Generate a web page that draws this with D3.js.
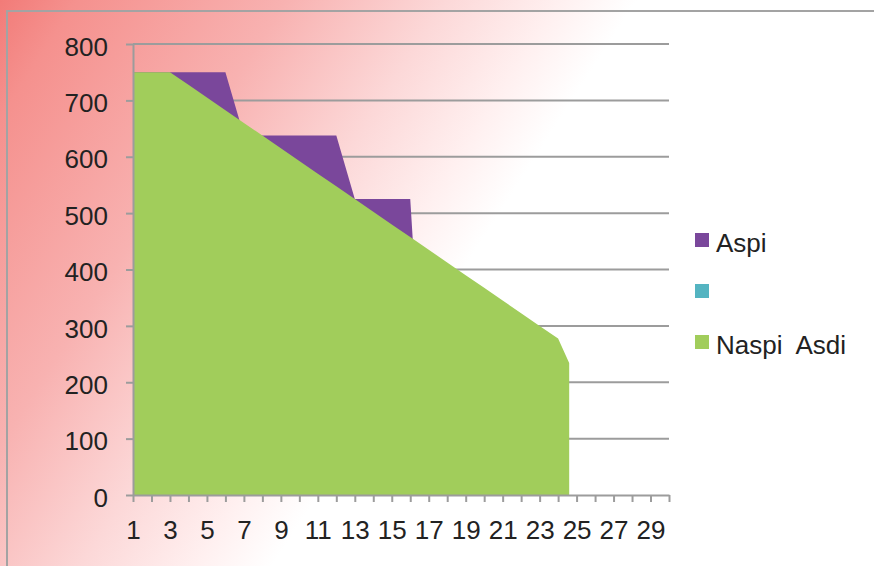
<!DOCTYPE html>
<html>
<head>
<meta charset="utf-8">
<script src="https://cdn.jsdelivr.net/npm/d3@7"></script>
<style>
  html, body { margin: 0; padding: 0; background: #fff; }
  svg { display: block; font-family: "Liberation Sans", Arial, sans-serif; }
</style>
</head>
<body>
<svg id="chart" width="874" height="566"></svg>
<script>
// categories on the x axis
const categories = [1, 2, 3, 4, 5, 6, 7, 8, 9, 10, 11, 12, 13, 14, 15, 16, 17, 18, 19, 20,
  21, 22, 23, 24, 25, 26, 27, 28, 29, 30];
const yTicks = [0, 100, 200, 300, 400, 500, 600, 700, 800];

// Aspi (purple), drawn behind
const aspiCat = [1, 2, 3, 4, 5, 6, 7, 8, 9, 10, 11, 12, 13, 14, 15, 16, 17];
const aspiVal = [750, 750, 750, 750, 750, 750, 637.5, 637.5, 637.5, 637.5, 637.5, 637.5,
  525, 525, 525, 525, 0];

// unnamed series (teal), nothing visible
const blankCat = [];
const blankVal = [];

// Naspi Asdi (green), on top
const naspiCat = [1, 2, 3, 4, 5, 6, 7, 8, 9, 10, 11, 12, 13, 14, 15, 16, 17, 18, 19, 20,
  21, 22, 23, 24, 24.6];
const naspiVal = [750, 750, 750, 727.5, 705, 682.5, 660, 637.5, 615, 592.5, 570, 547.5,
  525, 502.5, 480, 457.5, 435, 412.5, 390, 367.5, 345, 322.5, 300, 277.5, 234];

const seriesNames = ["Aspi", "", "Naspi  Asdi"];
const seriesColors = ["#7a479b", "#54b4c1", "#a1cd5b"];

const svg = d3.select("#chart");
const W = 874, H = 566;
const plotLeft = 133, plotRight = 669, plotTop = 44, plotBottom = 495;
const fontSize = "26px";

// background gradient
const defs = svg.append("defs");
const grad = defs.append("linearGradient")
  .attr("id", "bg")
  .attr("gradientUnits", "userSpaceOnUse")
  .attr("x1", 0).attr("y1", 0).attr("x2", 450).attr("y2", 290);
grad.append("stop").attr("offset", 0).attr("stop-color", "#f27b78");
grad.append("stop").attr("offset", 0.12).attr("stop-color", "#f5918e");
grad.append("stop").attr("offset", 0.45).attr("stop-color", "#f8b2b1");
grad.append("stop").attr("offset", 0.7).attr("stop-color", "#fcd8d8");
grad.append("stop").attr("offset", 0.88).attr("stop-color", "#fff0f0");
grad.append("stop").attr("offset", 1).attr("stop-color", "#ffffff");

svg.append("rect").attr("width", W).attr("height", H).attr("fill", "url(#bg)");

// outer frame
svg.append("rect")
  .attr("x", 7).attr("y", 11)
  .attr("width", W).attr("height", H)
  .attr("fill", "none")
  .attr("stroke", "#a3a3a3")
  .attr("stroke-width", 2);

const x = d3.scaleLinear().domain([1, 30]).range([plotLeft, plotRight]);
const y = d3.scaleLinear().domain([0, 800]).range([plotBottom, plotTop]);

// gridlines
svg.append("g")
  .selectAll("line")
  .data(yTicks.filter((d) => d > 0))
  .join("line")
  .attr("x1", plotLeft).attr("x2", plotRight)
  .attr("y1", (d) => y(d)).attr("y2", (d) => y(d))
  .attr("stroke", "#9c9c9c")
  .attr("stroke-width", 2);

// areas
const area = d3.area()
  .x((d) => x(d.c))
  .y0(y(0))
  .y1((d) => y(d.v));

const series = [
  aspiCat.map((c, i) => ({ c: c, v: aspiVal[i] })),
  blankCat.map((c, i) => ({ c: c, v: blankVal[i] })),
  naspiCat.map((c, i) => ({ c: c, v: naspiVal[i] })),
];

svg.append("g")
  .selectAll("path")
  .data(series)
  .join("path")
  .attr("d", (d) => (d.length ? area(d) : null))
  .attr("fill", (d, i) => seriesColors[i]);

// y axis
const yAxis = svg.append("g")
  .attr("transform", `translate(${plotLeft},0)`)
  .call(d3.axisLeft(y).tickValues(yTicks).tickSize(7).tickSizeOuter(0));
yAxis.select(".domain").attr("stroke", "#9c9c9c").attr("stroke-width", 2);
yAxis.selectAll(".tick line").attr("stroke", "#9c9c9c").attr("stroke-width", 2);
yAxis.selectAll(".tick text")
  .attr("x", -25)
  .attr("dy", "0.43em")
  .attr("fill", "#222")
  .style("font-size", fontSize)
  .style("font-family", "Liberation Sans, Arial, sans-serif");

// x axis
const xAxis = svg.append("g")
  .attr("transform", `translate(0,${plotBottom})`)
  .call(d3.axisBottom(x)
    .tickValues(categories)
    .tickFormat((d) => (d % 2 === 1 ? d : ""))
    .tickSize(7)
    .tickSizeOuter(0));
xAxis.select(".domain").attr("stroke", "#9c9c9c").attr("stroke-width", 2);
xAxis.selectAll(".tick line").attr("stroke", "#9c9c9c").attr("stroke-width", 2);
xAxis.selectAll(".tick text")
  .attr("y", 44)
  .attr("dy", 0)
  .attr("fill", "#222")
  .style("font-size", fontSize)
  .style("font-family", "Liberation Sans, Arial, sans-serif");

// legend
const legend = svg.append("g")
  .selectAll("g")
  .data(seriesNames)
  .join("g")
  .attr("transform", (d, i) => `translate(695,${233 + i * 51})`);
legend.append("rect")
  .attr("width", 14).attr("height", 14)
  .attr("fill", (d, i) => seriesColors[i]);
legend.append("text")
  .attr("x", 21).attr("y", 19)
  .attr("fill", "#222")
  .style("font-size", fontSize)
  .style("white-space", "pre")
  .attr("xml:space", "preserve")
  .text((d) => d);
</script>
</body>
</html>
